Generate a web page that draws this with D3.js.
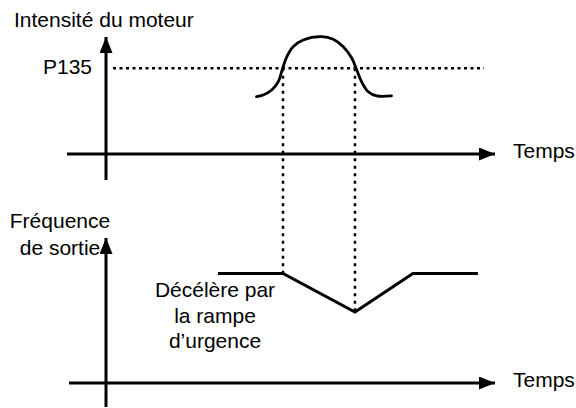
<!DOCTYPE html>
<html>
<head>
<meta charset="utf-8">
<script src="https://cdn.jsdelivr.net/npm/d3@7"></script>
<style>
  body { margin: 0; background: #fff; }
  text { font-family: "Liberation Sans", Arial, sans-serif; fill: #000; }
</style>
</head>
<body>
<script>
'use strict'

let width = 576
let height = 408

// motor current bump (time, intensity)
let bumpTime = [38.7, 40.4, 42.6, 44.3, 45.4, 46.5, 48.1, 50.7, 55.5, 58.4, 61.0, 63.2, 64.3, 65.7, 67.4, 69.6, 73.4]
let bumpValue = [48.6, 50, 54.2, 61.3, 72.6, 82.5, 90.9, 96.6, 99.4, 97.2, 90.9, 81.1, 72.6, 61.3, 52.8, 49.2, 49.2]
let p135Level = 72.6
let p135Label = "P135"

// output frequency (time, frequency)
let freqTime = [28.8, 45.5, 64.0, 78.9, 95.6]
let freqValue = [75, 75, 48.6, 75, 75]

// instants where current crosses P135
let crossTimes = [45.5, 64.0]

let topTitle = "Intensité du moteur"
let bottomTitle = ["Fréquence", "de sortie"]
let timeLabel = "Temps"
let noteLines = ["Décélère par", "la rampe", "d’urgence"]

let x0 = 106, xEnd = 495

let x = d3.scaleLinear().domain([0, 100]).range([x0, xEnd])
let yTop = d3.scaleLinear().domain([0, 100]).range([154, 36])
let yBot = d3.scaleLinear().domain([0, 100]).range([383, 237])

let svg = d3.select("body").append("svg")
  .attr("width", width)
  .attr("height", height)

// arrowhead
svg.append("defs").append("marker")
  .attr("id", "arrow")
  .attr("viewBox", "0 0 16 13")
  .attr("refX", 16)
  .attr("refY", 6.5)
  .attr("markerWidth", 16)
  .attr("markerHeight", 13)
  .attr("markerUnits", "userSpaceOnUse")
  .attr("orient", "auto")
  .append("path")
  .attr("d", "M0,0 L16,6.5 L0,13 Z")
  .attr("fill", "#000")

function drawAxes(yScale, yBottom, xStart) {
  // time axis
  svg.append("line")
    .attr("x1", xStart).attr("x2", xEnd)
    .attr("y1", yScale(0)).attr("y2", yScale(0))
    .attr("stroke", "#000").attr("stroke-width", 3)
    .attr("marker-end", "url(#arrow)")
  // value axis
  svg.append("line")
    .attr("x1", x0).attr("x2", x0)
    .attr("y1", yBottom).attr("y2", yScale(100) + 1)
    .attr("stroke", "#000").attr("stroke-width", 3)
    .attr("marker-end", "url(#arrow)")
  svg.append("text")
    .attr("x", 513).attr("y", yScale(0) + 4)
    .attr("font-size", 21)
    .text(timeLabel)
}

drawAxes(yTop, 180, 67)
drawAxes(yBot, 407, 69)

// P135 threshold
svg.append("line")
  .attr("x1", 113).attr("x2", 484)
  .attr("y1", yTop(p135Level)).attr("y2", yTop(p135Level))
  .attr("stroke", "#000").attr("stroke-width", 2.5)
  .attr("stroke-dasharray", "3,3.5")

svg.append("text")
  .attr("x", 92).attr("y", yTop(p135Level) + 6)
  .attr("text-anchor", "end")
  .attr("font-size", 21)
  .text(p135Label)

// vertical dotted markers
svg.selectAll(".cross")
  .data(crossTimes)
  .enter().append("line")
  .attr("x1", d => x(d)).attr("x2", d => x(d))
  .attr("y1", yTop(p135Level))
  .attr("y2", (d, i) => yBot(i == 0 ? freqValue[1] : freqValue[2]))
  .attr("stroke", "#000").attr("stroke-width", 2.5)
  .attr("stroke-dasharray", "3,4.5")

// current bump
let bump = bumpTime.map((t, i) => [t, bumpValue[i]])
svg.append("path")
  .datum(bump)
  .attr("d", d3.line().x(d => x(d[0])).y(d => yTop(d[1])).curve(d3.curveCatmullRom))
  .attr("fill", "none")
  .attr("stroke", "#000").attr("stroke-width", 2.8)
  .attr("stroke-linecap", "round")

// output frequency
let freq = freqTime.map((t, i) => [t, freqValue[i]])
svg.append("path")
  .datum(freq)
  .attr("d", d3.line().x(d => x(d[0])).y(d => yBot(d[1])))
  .attr("fill", "none")
  .attr("stroke", "#000").attr("stroke-width", 3)

// titles
svg.append("text")
  .attr("x", 14).attr("y", 27)
  .attr("font-size", 21)
  .text(topTitle)

svg.selectAll(".btitle")
  .data(bottomTitle)
  .enter().append("text")
  .attr("x", 60).attr("y", (d, i) => 228 + i * 27)
  .attr("text-anchor", "middle")
  .attr("font-size", 21)
  .text(d => d)

svg.selectAll(".note")
  .data(noteLines)
  .enter().append("text")
  .attr("x", 215).attr("y", (d, i) => 297 + i * 25.5)
  .attr("text-anchor", "middle")
  .attr("font-size", 21)
  .text(d => d)
</script>
</body>
</html>
